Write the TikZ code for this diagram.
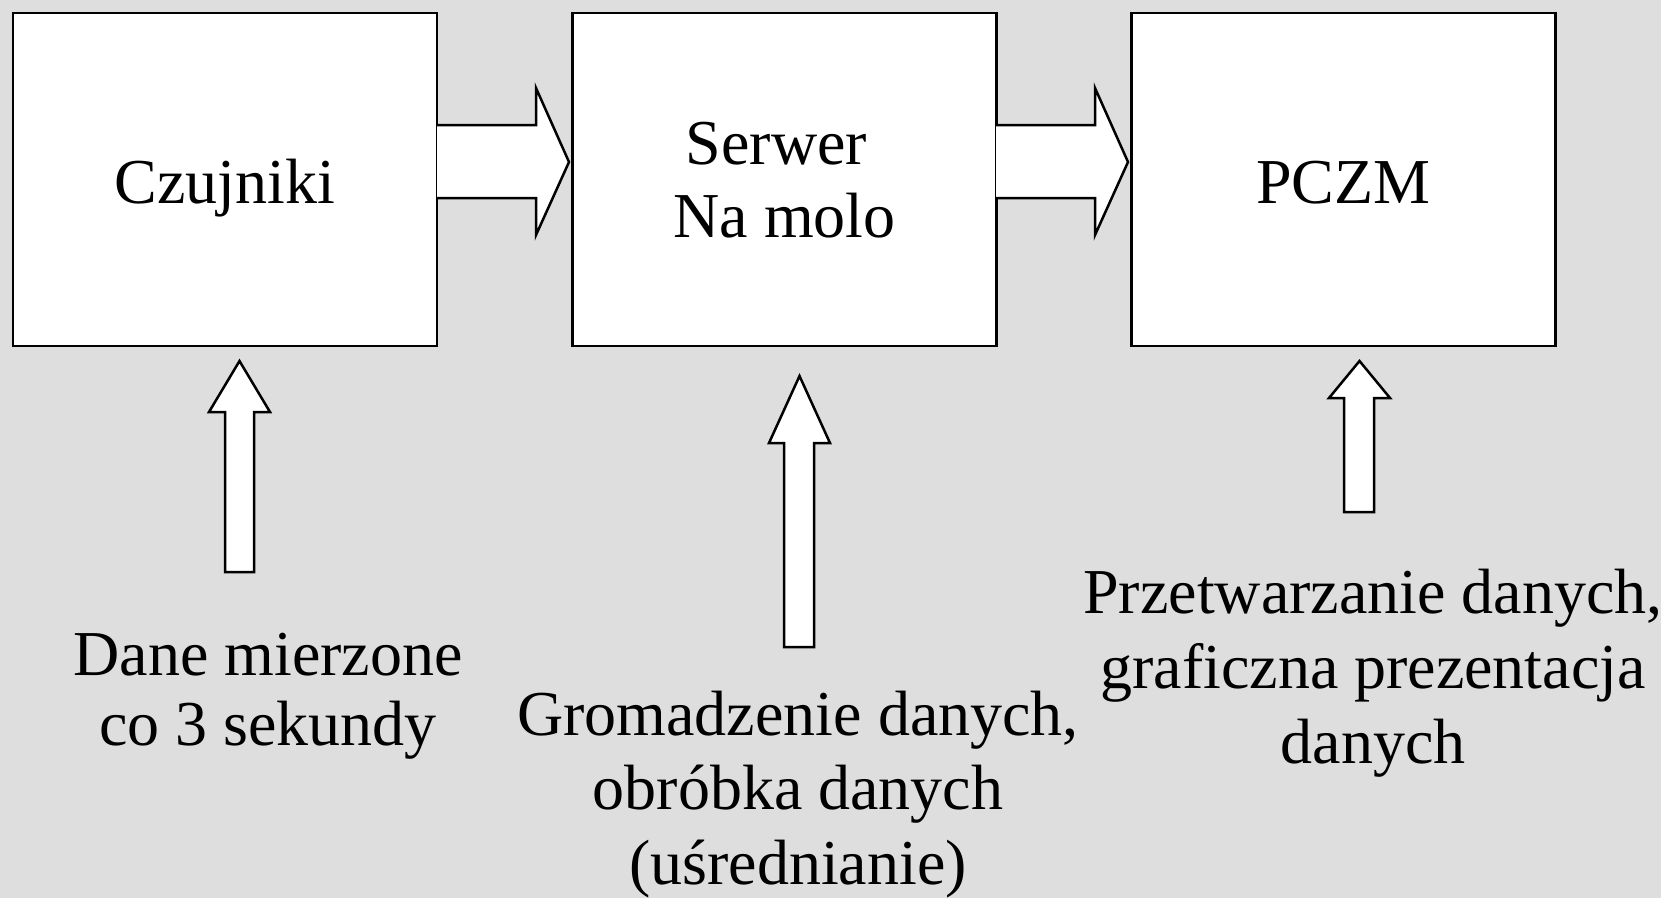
\documentclass[tikz,border=0pt]{standalone}
\usepackage{fontspec}
\setmainfont{Liberation Serif}
\definecolor{bggray}{RGB}{222,222,222}
\tikzset{
  box/.style={draw=black, line width=2.5pt, fill=white, minimum width=424pt, minimum height=333pt, inner sep=0pt},
  blockarrow/.style={draw=black, line width=2.5pt, fill=white, line join=miter},
  lbl/.style={inner sep=0pt, align=center, anchor=base}
}
\begin{document}
\begin{tikzpicture}[x=1pt,y=-1pt]
\fill[bggray] (0,0) rectangle (1661,898);
\useasboundingbox (0,0) rectangle (1661,898);
% boxes
\node[box] (b1) at (225,179.5) {};
\node[box] (b2) at (784.5,179.5) {};
\node[box] (b3) at (1343.5,179.5) {};
% box texts (anchor = baseline of the last line)
\node[lbl, font=\fontsize{64}{73}\selectfont] (t1) at (225,203) {Czujniki};
\node[lbl, font=\fontsize{64}{73}\selectfont] (t2) at (784.5,237) {Serwer\hspace*{0.25em}\\Na molo};
\node[lbl, font=\fontsize{64}{73}\selectfont] (t3) at (1343.5,203) {PCZM};
% horizontal block arrows
\draw[blockarrow] (437,125) -- (536,125) -- (536,88) -- (569,162) -- (536,235) -- (536,198) -- (437,198);
\draw[blockarrow] (996,125) -- (1095,125) -- (1095,88) -- (1128,162) -- (1095,235) -- (1095,198) -- (996,198);
% vertical block arrows
\draw[blockarrow] (225,572) -- (225,412) -- (209,412) -- (239.5,361) -- (270,412) -- (254,412) -- (254,572) -- cycle;
\draw[blockarrow] (784,647) -- (784,443) -- (769,443) -- (799.5,376) -- (830,443) -- (814,443) -- (814,647) -- cycle;
\draw[blockarrow] (1344,512) -- (1344,398) -- (1329,398) -- (1359.5,361) -- (1390,398) -- (1374,398) -- (1374,512) -- cycle;
% labels (anchor = baseline of the last line)
\node[lbl, font=\fontsize{64}{70}\selectfont] (l1) at (268,745) {Dane mierzone\\co 3 sekundy};
\node[lbl, font=\fontsize{64}{74.5}\selectfont] (l2) at (798,884) {Gromadzenie danych,\\obróbka danych\\(uśrednianie)};
\node[lbl, font=\fontsize{64}{75}\selectfont] (l3) at (1373,763) {Przetwarzanie danych,\\graficzna prezentacja\\danych};
\end{tikzpicture}
\end{document}
